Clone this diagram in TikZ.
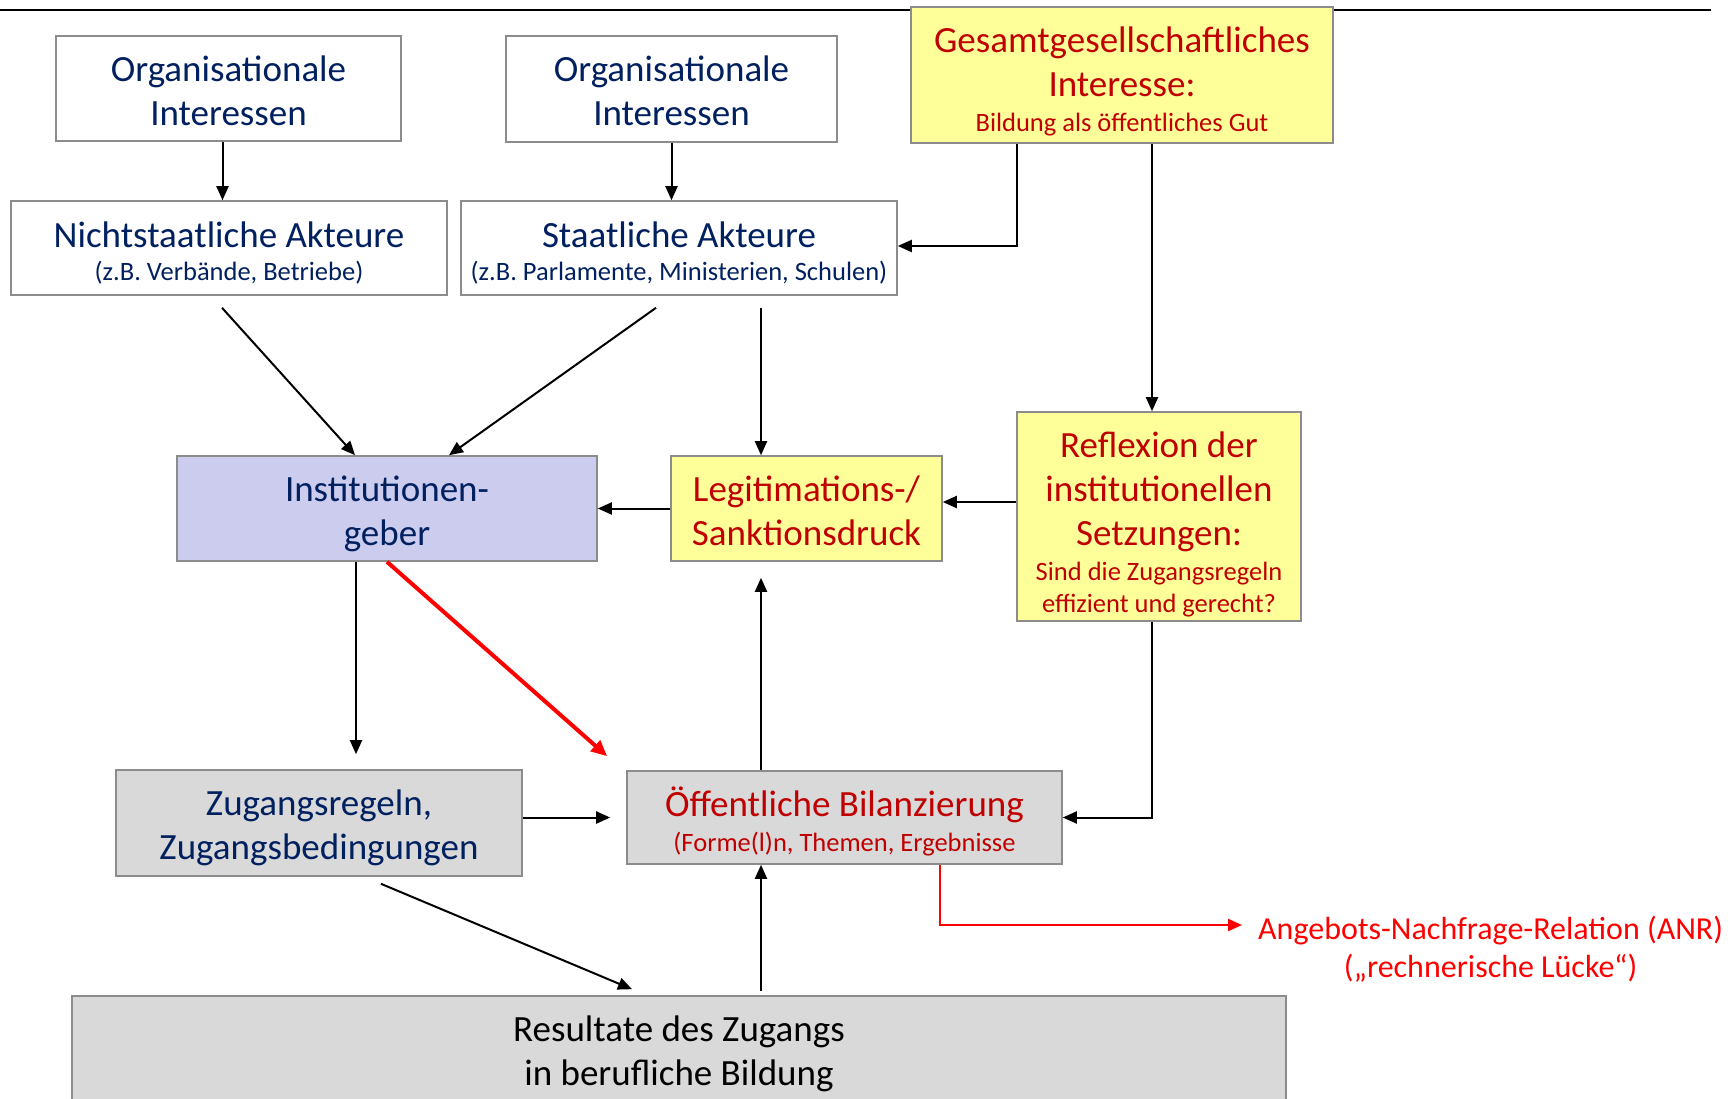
\documentclass[tikz,border=0pt]{standalone}
\usepackage{fontspec}
\setmainfont{Carlito}
\usetikzlibrary{arrows.meta,calc}
\definecolor{navy}{HTML}{002060}
\definecolor{dred}{HTML}{C00000}
\definecolor{bred}{HTML}{FF0000}
\definecolor{yel}{HTML}{FFFF99}
\definecolor{gry}{HTML}{D9D9D9}
\definecolor{lav}{HTML}{CCCCEE}
\definecolor{bord}{HTML}{8C8C8C}
\newcommand\fsz[2]{\fontsize{#1}{#2}\selectfont}
\newcommand\sm{\fsz{26.5}{32}}
\newcommand\tp[1]{\rule{0pt}{#1pt}}
\newcommand\bt[1][12]{\rule[-#1pt]{0pt}{#1pt}}
\begin{document}
\begin{tikzpicture}[x=1pt,y=-1pt,
  box/.style={draw=bord, line width=1.6pt, align=center, inner sep=0pt, font=\fsz{37}{44}},
  wbox/.style={box, fill=white, text=navy},
  ybox/.style={box, fill=yel, text=dred},
  gbox/.style={box, fill=gry},
  arr/.style={-{Triangle[length=14pt,width=12pt]}, line width=2pt, black},
  redarr/.style={-{Triangle[length=16pt,width=14pt]}, line width=4pt, bred},
  redthin/.style={-{Triangle[length=14pt,width=12pt]}, line width=2.2pt, bred},
]
\useasboundingbox (0,0) rectangle (1733,1099);
\fill[white] (0,0) rectangle (1733,1099);
\draw[line width=1.5pt] (0,10) -- (1711,10);

\node[wbox, minimum width=345pt, minimum height=105pt] (org1) at (228.5,88.5) {\tp{42.6}Organisationale\\Interessen\bt};
\node[wbox, minimum width=331pt, minimum height=106pt] (org2) at (671.5,89) {\tp{41.6}Organisationale\\Interessen\bt};
\node[wbox, minimum width=436pt, minimum height=94pt] (nicht) at (229,248) {\tp{44.2}Nichtstaatliche Akteure\\[-11pt]{\sm(z.B. Verbände, Betriebe)}\bt};
\node[wbox, minimum width=436pt, minimum height=94pt] (staat) at (679,248) {\tp{44.2}Staatliche Akteure\\[-11pt]{\sm(z.B. Parlamente, Ministerien, Schulen)}\bt};
\node[ybox, minimum width=422pt, minimum height=136pt] (gesamt) at (1122,75) {\tp{44.4}Gesamtgesellschaftliches\\Interesse:\\[-9pt]{\sm Bildung als öffentliches Gut}\bt[11]};
\node[ybox, minimum width=284pt, minimum height=209pt] (reflex) at (1159,516.5) {\tp{44.8}Reflexion der\\institutionellen\\Setzungen:\\[-9pt]{\sm Sind die Zugangsregeln}\\[-12pt]{\sm effizient und gerecht?}\bt[7]};
\node[box, fill=lav, text=navy, minimum width=420pt, minimum height=105pt] (instit) at (387,508.5) {\tp{42.6}Institutionen-\\geber\bt};
\node[ybox, minimum width=271pt, minimum height=105pt] (legit) at (806.5,508.5) {\tp{42.6}Legitimations-/\\Sanktionsdruck\bt};
\node[gbox, text=navy, minimum width=406pt, minimum height=106pt] (zugang) at (319,823) {\tp{41.4}Zugangsregeln,\\Zugangsbedingungen\bt};
\node[gbox, text=dred, minimum width=435pt, minimum height=93pt] (bilanz) at (844.5,817.5) {\tp{45.8}Öffentliche Bilanzierung\\[-9pt]{\sm(Forme(l)n, Themen, Ergebnisse}\bt};
\node[gbox, text=black, minimum width=1214pt, minimum height=110pt] (result) at (679,1051) {\tp{36.4}Resultate des Zugangs\\in berufliche Bildung\bt};
\node[align=center, inner sep=0pt, text=bred, font=\fsz{32}{38}, anchor=west] (anr) at (1258,945) {\tp{39.6}Angebots-Nachfrage-Relation (ANR)\\(„rechnerische Lücke“)\bt};

\draw[arr] ([xshift=-6pt]org1.south) -- ([xshift=-6pt]org1.south |- nicht.north);
\draw[arr] (org2.south) -- (org2.south |- staat.north);
\draw[arr] ([xshift=-105pt]gesamt.south) |- ([yshift=2pt]staat.east);
\draw[arr] ([xshift=30pt]gesamt.south) -- ([xshift=30pt]gesamt.south |- reflex.north);
\draw[arr] ([xshift=-7pt,yshift=-12pt]nicht.south) -- ([xshift=-32pt]instit.north);
\draw[arr] ([xshift=-23pt,yshift=-12pt]staat.south) -- ([xshift=62pt]instit.north);
\draw[arr] ([xshift=-45.5pt,yshift=-12pt]legit.north |- staat.south) -- ([xshift=-45.5pt]legit.north);
\draw[arr] (legit.west) -- (instit.east);
\draw[arr] ([yshift=6.5pt]reflex.west |- legit.east) -- ([yshift=6.5pt]legit.east);
\draw[arr] ([xshift=-31pt]instit.south) -- ([xshift=-31pt,yshift=15pt]instit.south |- zugang.north);
\draw[redarr] (instit.south) -- ([xshift=-19pt,yshift=14pt]bilanz.north west);
\draw[arr] (zugang.east |- bilanz.west) -- ([xshift=-16pt]bilanz.west);
\draw[arr] ([xshift=-83.5pt]bilanz.north) -- ([xshift=-83.5pt,yshift=-16pt]bilanz.north |- legit.south);
\draw[arr] ([xshift=-7pt]reflex.south) |- (bilanz.east);
\draw[arr] ([xshift=-83.5pt,yshift=4pt]bilanz.south |- result.north) -- ([xshift=-83.5pt]bilanz.south);
\draw[arr] ([xshift=62pt,yshift=-7pt]zugang.south) -- ([xshift=-47pt,yshift=6pt]result.north);
\draw[redthin] ([xshift=95.5pt]bilanz.south) |- ([xshift=-16pt,yshift=20pt]anr.west);
\end{tikzpicture}
\end{document}
